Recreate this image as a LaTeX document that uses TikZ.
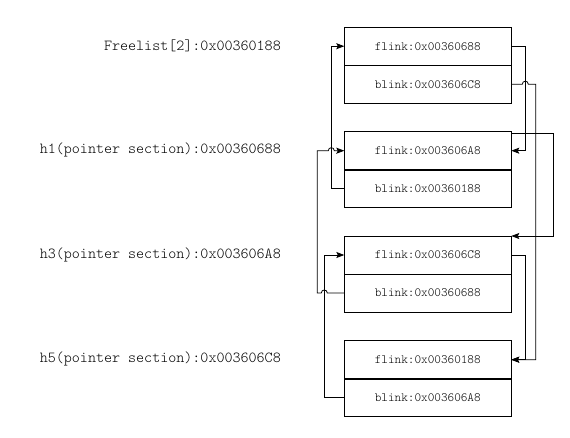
\documentclass[tikz,border=0pt]{standalone}
\usepackage{fontspec}
\newfontfamily\lightmono{lmmonolt10-regular.otf}
\usetikzlibrary{arrows.meta}
\begin{document}
\begin{tikzpicture}[x=1pt,y=-1pt,
  cell/.style={draw,line width=0.8pt,minimum width=167pt,minimum height=38pt,inner sep=0pt,outer sep=0pt,font=\lightmono\fontsize{12.6}{14}\selectfont},
  lbl/.style={anchor=east,inner sep=0pt,font=\lightmono\fontsize{15.3}{18}\selectfont},
  conn/.style={line width=0.8pt},
  arr/.style={conn,-{Stealth[length=8pt,width=6pt,inset=1.5pt]}}]
\useasboundingbox (0,0) rectangle (570,437);
% labels
\node[lbl] (l0) at (281,46) {Freelist[2]:0x00360188};
\node[lbl] (l1) at (281,150) {h1(pointer section):0x00360688};
\node[lbl] (l3) at (281,255) {h3(pointer section):0x003606A8};
\node[lbl] (l5) at (281,358.5) {h5(pointer section):0x003606C8};
% boxes
\node[cell] (b1f) at (427.8,46.2) {flink:0x00360688};
\node[cell] (b1b) at (427.8,84.2) {blink:0x003606C8};
\node[cell] (b2f) at (427.8,150.7) {flink:0x003606A8};
\node[cell] (b2b) at (427.8,188.7) {blink:0x00360188};
\node[cell] (b3f) at (427.8,255) {flink:0x003606C8};
\node[cell] (b3b) at (427.8,293) {blink:0x00360688};
\node[cell] (b4f) at (427.8,359.7) {flink:0x00360188};
\node[cell] (b4b) at (427.8,397.7) {blink:0x003606A8};
\draw[line width=2pt] (b2f.south west) -- (b2f.south east);
\draw[line width=2pt] (b4f.south west) -- (b4f.south east);
% connectors
\draw[arr] (b1f.east) -- ++(14,0) |- (b2f.east);
\draw[arr] (b1b.east) -- ([xshift=11pt]b1b.east)
  .. controls +(0pt,4pt) and +(0pt,4pt) .. ([xshift=17pt]b1b.east)
  -- ([xshift=24.4pt]b1b.east) |- (b4f.east);
\draw[arr] (b3f.east) -- ++(14,0) |- (b4f.east);
\draw[arr] ([yshift=-1.4pt]b2f.north east) -- ++(42,0) |- (b3f.north east);
\draw[arr] (b2b.west) -- ++(-13,0) |- (b1f.west);
\draw[arr] (b3b.west) -- ([xshift=-17pt]b3b.west)
  .. controls +(0pt,4pt) and +(0pt,4pt) .. ([xshift=-23pt]b3b.west)
  -- ([xshift=-27pt]b3b.west) -- ([xshift=-27pt]b2f.west)
  -- ([xshift=-16pt]b2f.west)
  .. controls +(0pt,4pt) and +(0pt,4pt) .. ([xshift=-10pt]b2f.west)
  -- (b2f.west);
\draw[arr] (b4b.west) -- ++(-20,0) |- (b3f.west);
\end{tikzpicture}
\end{document}
